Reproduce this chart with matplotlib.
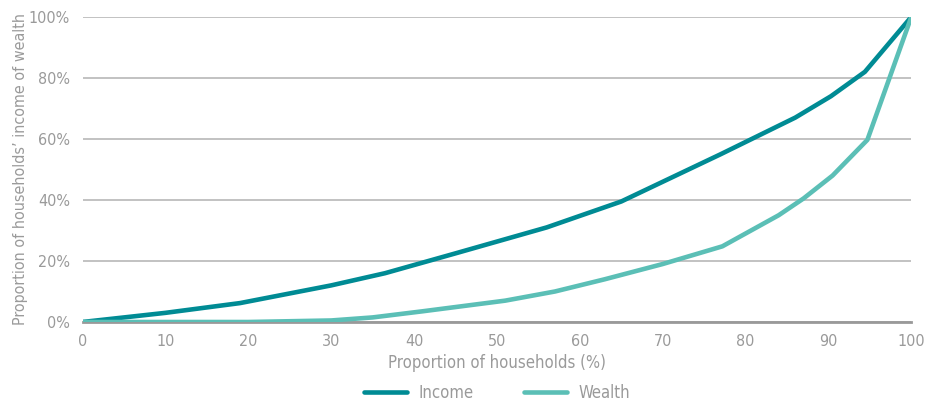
import matplotlib.pyplot as plt
import matplotlib as mpl
from matplotlib.ticker import FuncFormatter

mpl.rcParams.update({
    'font.family': 'DejaVu Sans',
    'font.stretch': 'condensed',
    'text.color': '#9a9a9a',
    'axes.labelcolor': '#9a9a9a',
    'xtick.color': '#9a9a9a',
    'ytick.color': '#9a9a9a',
})

# Lorenz curve points (x = % of households, y = cumulative share %)
income_x = [0, 5, 10, 19, 30, 36.5, 45, 56, 65, 77, 86, 90.3, 94.4, 100]
income_y = [0, 1.5, 3, 6.2, 12, 16, 22.5, 31, 39.5, 55, 67, 74, 82, 100]

wealth_x = [0, 10, 20, 30, 35, 41, 51, 57, 63, 70, 77.2, 84, 87, 90.5, 94.7, 100]
wealth_y = [0, 0, 0, 0.5, 1.5, 3.5, 7, 10, 14, 19, 24.8, 35, 40.5, 48, 59.7, 100]

income_color = '#008b94'
wealth_color = '#5bbfb6'

fig = plt.figure(figsize=(9.28, 4.03), dpi=100)
ax = fig.add_axes([0.089, 0.201, 0.893, 0.757])

ax.plot(income_x, income_y, color=income_color, lw=3.3, label='Income',
        solid_capstyle='round', zorder=3)
ax.plot(wealth_x, wealth_y, color=wealth_color, lw=3.3, label='Wealth',
        solid_capstyle='round', zorder=3)

ax.set_xlim(0, 100)
ax.set_ylim(0, 100)
ax.set_xticks(range(0, 101, 10))
ax.set_yticks(range(0, 101, 20))
ax.yaxis.set_major_formatter(FuncFormatter(lambda v, p: f'{int(v)}%'))
ax.tick_params(length=0, labelsize=11.5, pad=9)
ax.tick_params(axis='x', pad=9)

ax.grid(axis='y', color='#b8b8b8', lw=1.2)
ax.set_axisbelow(True)
for s in ['top', 'right', 'left']:
    ax.spines[s].set_visible(False)
ax.spines['bottom'].set_color('#999999')
ax.spines['bottom'].set_linewidth(2)
ax.spines['bottom'].set_zorder(2)

ax.set_xlabel('Proportion of households (%)', fontsize=12, labelpad=3)
ax.set_ylabel("Proportion of households’ income of wealth", fontsize=11.5)
ax.yaxis.set_label_coords(-0.066, 0.5)

leg = ax.legend(loc='center', bbox_to_anchor=(0.5, -0.233), ncol=2,
                frameon=False, fontsize=12, handlelength=2.6, columnspacing=3.0,
                handletextpad=0.7, borderaxespad=0, borderpad=0)
for t in leg.get_texts():
    t.set_color('#9a9a9a')

fig.savefig('out.png', dpi=100)
